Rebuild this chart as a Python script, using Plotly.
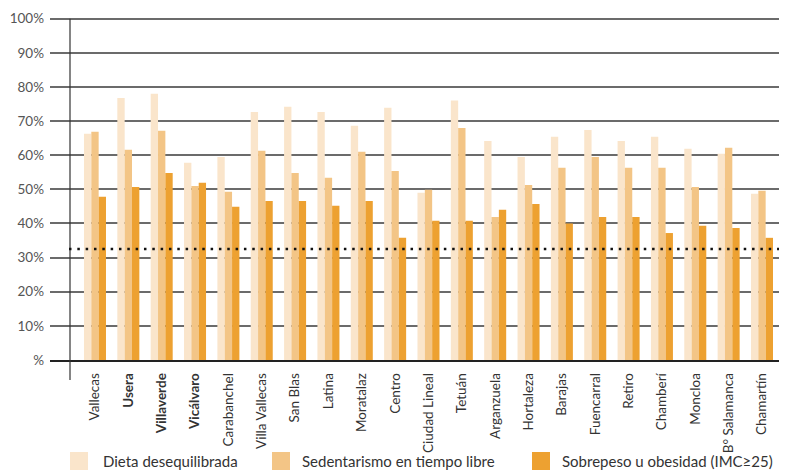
import plotly.graph_objects as go

districts = ["Vallecas", "<b>Usera</b>", "<b>Villaverde</b>", "<b>Vicálvaro</b>", "Carabanchel",
             "Villa Vallecas", "San Blas", "Latina", "Moratalaz", "Centro", "Ciudad Lineal",
             "Tetuán", "Arganzuela", "Hortaleza", "Barajas", "Fuencarral", "Retiro",
             "Chamberí", "Moncloa", "B° Salamanca", "Chamartín"]

dieta = [66.3, 76.8, 78.0, 57.8, 59.5, 72.7, 74.2, 72.7, 68.6, 73.9, 49.0,
         76.0, 64.2, 59.5, 65.4, 67.4, 64.2, 65.4, 61.9, 60.4, 48.7]
sedentarismo = [66.9, 61.6, 67.2, 51.0, 49.3, 61.3, 54.8, 53.4, 61.0, 55.4, 49.9,
                68.0, 41.9, 51.3, 56.3, 59.5, 56.3, 56.3, 50.7, 62.2, 49.6]
sobrepeso = [47.8, 50.7, 54.8, 51.9, 44.9, 46.6, 46.6, 45.2, 46.6, 35.8, 40.8,
             40.8, 44.0, 45.7, 40.0, 41.9, 41.9, 37.2, 39.3, 38.7, 35.8]

series_names = ["Dieta desequilibrada", "Sedentarismo en tiempo libre",
                "Sobrepeso u obesidad (IMC\u226525)"]
series_colors = ["#FAE5CB", "#F3C586", "#EDA131"]

reference_value = 32.5

y_ticks = [0, 10, 20, 30, 40, 50, 60, 70, 80, 90, 100]
y_ticklabels = ["%", "10%", "20%", "30%", "40%", "50%", "60%", "70%", "80%", "90%", "100%"]

FONT = "Lato"
OFF = 8  # page body margin
W, H = 787 - OFF, 472 - OFF
ML, MR, MT, MB = 50 - OFF, 0, 17 - OFF, 112
YMAX = 100.5
plot_w = W - ML - MR
plot_h = H - MT - MB


def px(X):
    return (X - OFF - ML) / plot_w


def py(Y):
    return (H - MB - (Y - OFF)) / plot_h


x_idx = list(range(len(districts)))
fig = go.Figure()
for name, vals, col in zip(series_names, [dieta, sedentarismo, sobrepeso], series_colors):
    fig.add_trace(go.Bar(x=x_idx, y=vals, name=name, marker=dict(color=col, line=dict(width=0)),
                         showlegend=False))

fig.update_layout(
    width=W, height=H,
    margin=dict(l=ML, r=MR, t=MT, b=MB),
    paper_bgcolor="white", plot_bgcolor="white",
    barmode="group", bargap=0.34, bargroupgap=0,
    font=dict(family=FONT, color="#333333"),
)
fig.update_xaxes(
    range=[-1.349, 20.75], tickmode="array", tickvals=x_idx, ticktext=districts,
    tickangle=-90, tickfont=dict(size=13.5, color="#333333", family=FONT),
    showgrid=False, zeroline=False, showline=True, linecolor="#222222", linewidth=1.5,
    ticks="", ticklabelstandoff=6,
)
fig.update_yaxes(
    range=[0, YMAX], tickmode="array", tickvals=y_ticks, ticktext=y_ticklabels,
    tickfont=dict(size=13.5, color="#555555", family=FONT),
    showgrid=True, gridcolor="#6b6b6b", gridwidth=1.5, zeroline=False, showline=False,
    ticks="", ticklabelstandoff=5,
)

# vertical axis line extending below the baseline
fig.add_shape(type="line", xref="paper", yref="paper", x0=px(70), x1=px(70),
              y0=py(380), y1=100 / YMAX, line=dict(color="#333333", width=1.2))

# dotted reference line
fig.add_shape(type="line", xref="paper", yref="paper", x0=px(69), x1=1,
              y0=reference_value / YMAX, y1=reference_value / YMAX,
              line=dict(color="#111111", width=2.5, dash="2.5px,5.83px"))

# legend (manual)
sw_left = [70, 272, 532]
txt_left = [101, 300, 560]
leg_y = 461
for name, col, sx, tx in zip(series_names, series_colors, sw_left, txt_left):
    fig.add_shape(type="rect", xref="paper", yref="paper",
                  x0=px(sx), x1=px(sx + 18),
                  y0=py(leg_y + 9), y1=py(leg_y - 9),
                  fillcolor=col, line=dict(width=0))
    fig.add_annotation(xref="paper", yref="paper", x=px(tx),
                       y=py(leg_y), text=name, showarrow=False,
                       xanchor="left", yanchor="middle",
                       font=dict(size=15, color="#333333", family=FONT))

fig.write_html("out.html")
